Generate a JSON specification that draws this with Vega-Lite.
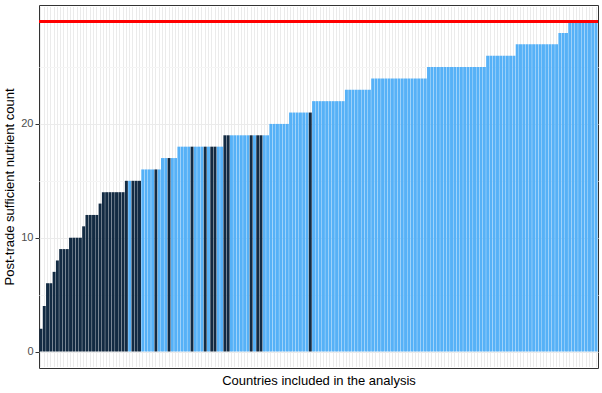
{
  "$schema": "https://vega.github.io/schema/vega-lite/v6.json",
  "width": 559,
  "height": 363,
  "autosize": {"type": "none"},
  "padding": {"left": 39, "top": 5, "right": 4, "bottom": 25},
  "background": "white",
  "config": {"font": "Liberation Sans", "view": {"stroke": "#333333", "strokeWidth": 1}},
  "data": {"values": [
    {"id":1,"v":2,"s":"A"},{"id":2,"v":4,"s":"A"},{"id":3,"v":6,"s":"A"},{"id":4,"v":6,"s":"A"},{"id":5,"v":7,"s":"A"},
    {"id":6,"v":8,"s":"A"},{"id":7,"v":9,"s":"A"},{"id":8,"v":9,"s":"A"},{"id":9,"v":9,"s":"A"},{"id":10,"v":10,"s":"A"},
    {"id":11,"v":10,"s":"A"},{"id":12,"v":10,"s":"A"},{"id":13,"v":10,"s":"A"},{"id":14,"v":11,"s":"A"},{"id":15,"v":12,"s":"A"},
    {"id":16,"v":12,"s":"A"},{"id":17,"v":12,"s":"A"},{"id":18,"v":12,"s":"A"},{"id":19,"v":13,"s":"A"},{"id":20,"v":14,"s":"A"},
    {"id":21,"v":14,"s":"A"},{"id":22,"v":14,"s":"A"},{"id":23,"v":14,"s":"A"},{"id":24,"v":14,"s":"A"},{"id":25,"v":14,"s":"A"},
    {"id":26,"v":14,"s":"A"},{"id":27,"v":15,"s":"A"},{"id":28,"v":15,"s":"B"},{"id":29,"v":15,"s":"A"},{"id":30,"v":15,"s":"A"},
    {"id":31,"v":15,"s":"A"},{"id":32,"v":16,"s":"B"},{"id":33,"v":16,"s":"B"},{"id":34,"v":16,"s":"B"},{"id":35,"v":16,"s":"B"},
    {"id":36,"v":16,"s":"A"},{"id":37,"v":16,"s":"B"},{"id":38,"v":17,"s":"B"},{"id":39,"v":17,"s":"B"},{"id":40,"v":17,"s":"A"},
    {"id":41,"v":17,"s":"B"},{"id":42,"v":17,"s":"B"},{"id":43,"v":18,"s":"B"},{"id":44,"v":18,"s":"B"},{"id":45,"v":18,"s":"B"},
    {"id":46,"v":18,"s":"B"},{"id":47,"v":18,"s":"A"},{"id":48,"v":18,"s":"B"},{"id":49,"v":18,"s":"B"},{"id":50,"v":18,"s":"B"},
    {"id":51,"v":18,"s":"A"},{"id":52,"v":18,"s":"B"},{"id":53,"v":18,"s":"A"},{"id":54,"v":18,"s":"A"},{"id":55,"v":18,"s":"B"},
    {"id":56,"v":18,"s":"B"},{"id":57,"v":19,"s":"A"},{"id":58,"v":19,"s":"A"},{"id":59,"v":19,"s":"B"},{"id":60,"v":19,"s":"B"},
    {"id":61,"v":19,"s":"B"},{"id":62,"v":19,"s":"B"},{"id":63,"v":19,"s":"B"},{"id":64,"v":19,"s":"B"},{"id":65,"v":19,"s":"A"},
    {"id":66,"v":19,"s":"B"},{"id":67,"v":19,"s":"A"},{"id":68,"v":19,"s":"A"},{"id":69,"v":19,"s":"B"},{"id":70,"v":19,"s":"B"},
    {"id":71,"v":20,"s":"B"},{"id":72,"v":20,"s":"B"},{"id":73,"v":20,"s":"B"},{"id":74,"v":20,"s":"B"},{"id":75,"v":20,"s":"B"},
    {"id":76,"v":20,"s":"B"},{"id":77,"v":21,"s":"B"},{"id":78,"v":21,"s":"B"},{"id":79,"v":21,"s":"B"},{"id":80,"v":21,"s":"B"},
    {"id":81,"v":21,"s":"B"},{"id":82,"v":21,"s":"B"},{"id":83,"v":21,"s":"A"},{"id":84,"v":22,"s":"B"},{"id":85,"v":22,"s":"B"},
    {"id":86,"v":22,"s":"B"},{"id":87,"v":22,"s":"B"},{"id":88,"v":22,"s":"B"},{"id":89,"v":22,"s":"B"},{"id":90,"v":22,"s":"B"},
    {"id":91,"v":22,"s":"B"},{"id":92,"v":22,"s":"B"},{"id":93,"v":22,"s":"B"},{"id":94,"v":23,"s":"B"},{"id":95,"v":23,"s":"B"},
    {"id":96,"v":23,"s":"B"},{"id":97,"v":23,"s":"B"},{"id":98,"v":23,"s":"B"},{"id":99,"v":23,"s":"B"},{"id":100,"v":23,"s":"B"},
    {"id":101,"v":23,"s":"B"},{"id":102,"v":24,"s":"B"},{"id":103,"v":24,"s":"B"},{"id":104,"v":24,"s":"B"},{"id":105,"v":24,"s":"B"},
    {"id":106,"v":24,"s":"B"},{"id":107,"v":24,"s":"B"},{"id":108,"v":24,"s":"B"},{"id":109,"v":24,"s":"B"},{"id":110,"v":24,"s":"B"},
    {"id":111,"v":24,"s":"B"},{"id":112,"v":24,"s":"B"},{"id":113,"v":24,"s":"B"},{"id":114,"v":24,"s":"B"},{"id":115,"v":24,"s":"B"},
    {"id":116,"v":24,"s":"B"},{"id":117,"v":24,"s":"B"},{"id":118,"v":24,"s":"B"},{"id":119,"v":25,"s":"B"},{"id":120,"v":25,"s":"B"},
    {"id":121,"v":25,"s":"B"},{"id":122,"v":25,"s":"B"},{"id":123,"v":25,"s":"B"},{"id":124,"v":25,"s":"B"},{"id":125,"v":25,"s":"B"},
    {"id":126,"v":25,"s":"B"},{"id":127,"v":25,"s":"B"},{"id":128,"v":25,"s":"B"},{"id":129,"v":25,"s":"B"},{"id":130,"v":25,"s":"B"},
    {"id":131,"v":25,"s":"B"},{"id":132,"v":25,"s":"B"},{"id":133,"v":25,"s":"B"},{"id":134,"v":25,"s":"B"},{"id":135,"v":25,"s":"B"},
    {"id":136,"v":25,"s":"B"},{"id":137,"v":26,"s":"B"},{"id":138,"v":26,"s":"B"},{"id":139,"v":26,"s":"B"},{"id":140,"v":26,"s":"B"},
    {"id":141,"v":26,"s":"B"},{"id":142,"v":26,"s":"B"},{"id":143,"v":26,"s":"B"},{"id":144,"v":26,"s":"B"},{"id":145,"v":26,"s":"B"},
    {"id":146,"v":27,"s":"B"},{"id":147,"v":27,"s":"B"},{"id":148,"v":27,"s":"B"},{"id":149,"v":27,"s":"B"},{"id":150,"v":27,"s":"B"},
    {"id":151,"v":27,"s":"B"},{"id":152,"v":27,"s":"B"},{"id":153,"v":27,"s":"B"},{"id":154,"v":27,"s":"B"},{"id":155,"v":27,"s":"B"},
    {"id":156,"v":27,"s":"B"},{"id":157,"v":27,"s":"B"},{"id":158,"v":27,"s":"B"},{"id":159,"v":28,"s":"B"},{"id":160,"v":28,"s":"B"},
    {"id":161,"v":28,"s":"B"},{"id":162,"v":29,"s":"B"},{"id":163,"v":29,"s":"B"},{"id":164,"v":29,"s":"B"},{"id":165,"v":29,"s":"B"},
    {"id":166,"v":29,"s":"B"},{"id":167,"v":29,"s":"B"},{"id":168,"v":29,"s":"B"},{"id":169,"v":29,"s":"B"},{"id":170,"v":29,"s":"B"}
  ]},
  "layer": [
    {
      "mark": {"type": "bar"},
      "encoding": {
        "x": {
          "field": "id", "type": "ordinal",
          "scale": {"paddingInner": 0.1, "paddingOuter": 0.15},
          "axis": {
            "title": "Countries included in the analysis",
            "labels": false, "ticks": false, "domain": false,
            "grid": true, "gridColor": "#EBEBEB", "gridWidth": 1, "bandPosition": 0.5,
            "gridDash": [360, 3], "gridDashOffset": 361.5,
            "titleFontSize": 13, "titleFontWeight": "normal", "titleColor": "black", "titlePadding": 6
          }
        },
        "y": {
          "field": "v", "type": "quantitative",
          "scale": {"domain": [-1.45, 30.45], "nice": false, "zero": false},
          "axis": {
            "title": "Post-trade sufficient nutrient count",
            "values": [0, 5, 10, 15, 20, 25],
            "labelExpr": "datum.value % 10 === 0 ? datum.label : ''",
            "gridColor": {"condition": {"test": "datum.value % 10 === 0", "value": "#EBEBEB"}, "value": "#F5F5F5"},
            "tickColor": {"condition": {"test": "datum.value % 10 === 0", "value": "#333333"}, "value": "transparent"},
            "tickSize": 4, "domain": false,
            "labelFontSize": 11, "labelColor": "#4D4D4D", "labelPadding": 2,
            "titleFontSize": 13, "titleFontWeight": "normal", "titleColor": "black", "titlePadding": 4
          }
        },
        "color": {
          "field": "s", "type": "nominal",
          "scale": {"domain": ["A", "B"], "range": ["#132B43", "#56B1F7"]},
          "legend": null
        }
      }
    },
    {
      "data": {"values": [{"threshold": 29}]},
      "mark": {"type": "rule", "color": "#FF0000", "strokeWidth": 3},
      "encoding": {"y": {"field": "threshold", "type": "quantitative"}}
    }
  ]
}
